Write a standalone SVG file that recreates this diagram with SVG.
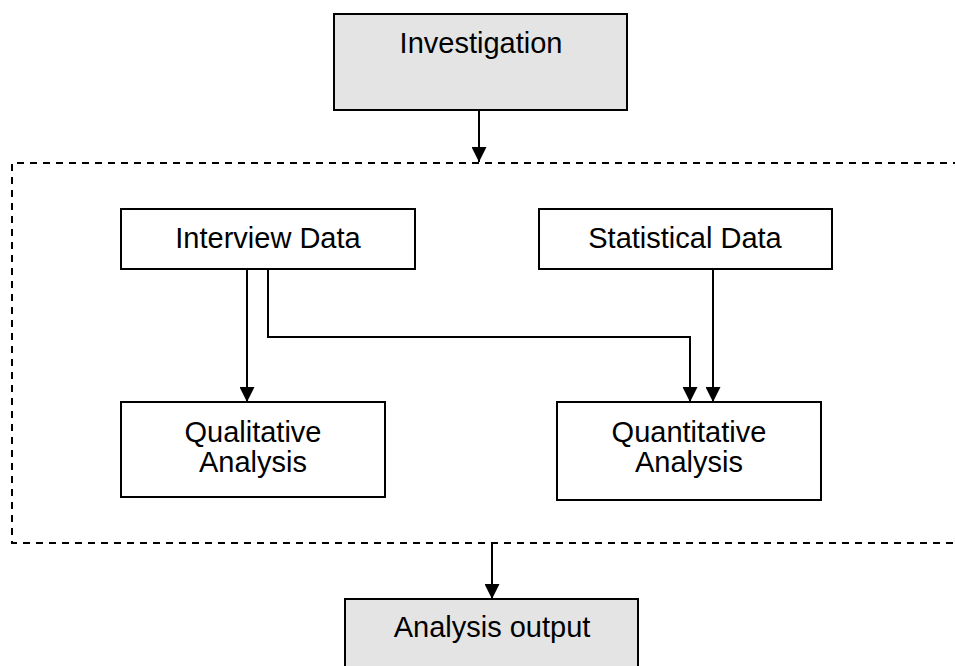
<svg xmlns="http://www.w3.org/2000/svg" width="955" height="666" viewBox="0 0 955 666">
  <style>
    .box { fill: #ffffff; stroke: #000000; stroke-width: 2; }
    .shade { fill: #e4e4e4; stroke: #000000; stroke-width: 2; }
    .label { font-family: "Liberation Sans", Arial, sans-serif; font-size: 29px; fill: #000000; text-anchor: middle; }
    .link { fill: none; stroke: #000000; stroke-width: 2; }
    .frame { fill: none; stroke: #000000; stroke-width: 2; stroke-dasharray: 7 6; }
  </style>
  <defs>
    <marker id="head" markerUnits="userSpaceOnUse" markerWidth="15" markerHeight="15" refX="15" refY="7.5" orient="auto">
      <path d="M0,0 L15,7.5 L0,15 Z" fill="#000000"/>
    </marker>
  </defs>

  <!-- dashed grouping frame (open to the right) -->
  <path class="frame" d="M960,163 H12 V543 H960"/>

  <g id="investigation">
    <rect class="shade" x="334" y="14" width="293" height="96"/>
    <text class="label" x="481" y="53">Investigation</text>
  </g>

  <g id="interview-data">
    <rect class="box" x="121" y="209" width="294" height="60"/>
    <text class="label" x="268" y="248">Interview Data</text>
  </g>

  <g id="statistical-data">
    <rect class="box" x="539" y="209" width="293" height="60"/>
    <text class="label" x="685" y="248">Statistical Data</text>
  </g>

  <g id="qualitative-analysis">
    <rect class="box" x="121" y="402" width="264" height="95"/>
    <text class="label" x="253" y="442">Qualitative</text>
    <text class="label" x="253" y="472">Analysis</text>
  </g>

  <g id="quantitative-analysis">
    <rect class="box" x="557" y="402" width="264" height="98"/>
    <text class="label" x="689" y="442">Quantitative</text>
    <text class="label" x="689" y="472">Analysis</text>
  </g>

  <g id="analysis-output">
    <rect class="shade" x="345" y="599" width="293" height="80"/>
    <text class="label" x="492" y="637">Analysis output</text>
  </g>

  <g id="connectors">
    <path class="link" d="M479,110 V162" marker-end="url(#head)"/>
    <path class="link" d="M247,269 V402" marker-end="url(#head)"/>
    <path class="link" d="M268,269 V337 H690 V402" marker-end="url(#head)"/>
    <path class="link" d="M713,269 V402" marker-end="url(#head)"/>
    <path class="link" d="M492,543 V599" marker-end="url(#head)"/>
  </g>
</svg>
